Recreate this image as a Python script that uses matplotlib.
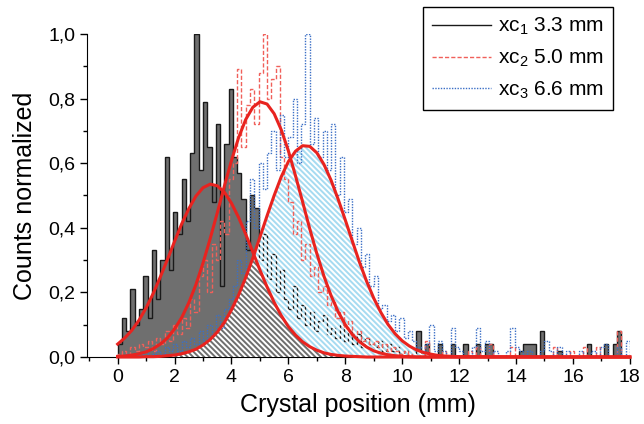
import numpy as np
import matplotlib
matplotlib.use("Agg")
import matplotlib.pyplot as plt

plt.rcParams['font.family'] = ['Liberation Sans', 'DejaVu Sans']
plt.rcParams['mathtext.fontset'] = 'custom'
plt.rcParams['mathtext.rm'] = 'Liberation Sans'
plt.rcParams['mathtext.it'] = 'Liberation Sans:italic'
plt.rcParams['hatch.linewidth'] = 1.4

#---- data ----#
# histogram bins, 0.15 mm wide, 0..18 mm
bin_edges = np.linspace(0, 18, 121)

counts_xc1 = [0.04, 0.12, 0.08, 0.21, 0.10, 0.15, 0.25, 0.12, 0.33, 0.18,
              0.30, 0.62, 0.27, 0.45, 0.38, 0.55, 0.42, 0.63, 1.00, 0.58,
              0.79, 0.65, 0.48, 0.72, 0.22, 0.66, 0.83, 0.62, 0.57, 0.49,
              0.33, 0.50, 0.46, 0.30, 0.38, 0.24, 0.32, 0.20, 0.27, 0.18,
              0.15, 0.22, 0.12, 0.16, 0.10, 0.14, 0.08, 0.11, 0.13, 0.07,
              0.09, 0.06, 0.10, 0.05, 0.08, 0.04, 0.07, 0.03, 0.06, 0.04,
              0.03, 0.05, 0.02, 0.04, 0.02, 0.03, 0.01, 0.02, 0.00, 0.00,
              0.08, 0.00, 0.04, 0.00, 0.00, 0.04, 0.00, 0.00, 0.04, 0.00,
              0.00, 0.04, 0.00, 0.00, 0.04, 0.00, 0.04, 0.04, 0.00, 0.00,
              0.00, 0.00, 0.00, 0.00, 0.02, 0.04, 0.04, 0.04, 0.00, 0.08,
              0.00, 0.00, 0.00, 0.02, 0.00, 0.00, 0.00, 0.00, 0.00, 0.00,
              0.04, 0.00, 0.00, 0.00, 0.04, 0.00, 0.04, 0.08, 0.00, 0.00]

counts_xc2 = [0.01, 0.02, 0.00, 0.03, 0.02, 0.04, 0.03, 0.05, 0.02, 0.06,
              0.04, 0.08, 0.05, 0.10, 0.07, 0.12, 0.09, 0.18, 0.14, 0.25,
              0.30, 0.20, 0.35, 0.30, 0.42, 0.38, 0.55, 0.60, 0.89, 0.65,
              0.78, 0.83, 0.72, 0.88, 1.00, 0.80, 0.86, 0.90, 0.62, 0.55,
              0.48, 0.38, 0.42, 0.30, 0.35, 0.25, 0.28, 0.20, 0.22, 0.16,
              0.17, 0.12, 0.14, 0.09, 0.11, 0.07, 0.08, 0.05, 0.06, 0.04,
              0.05, 0.03, 0.04, 0.02, 0.03, 0.02, 0.01, 0.02, 0.01, 0.00,
              0.00, 0.00, 0.05, 0.00, 0.00, 0.00, 0.02, 0.00, 0.00, 0.00,
              0.00, 0.00, 0.02, 0.00, 0.03, 0.00, 0.00, 0.04, 0.00, 0.00,
              0.00, 0.00, 0.03, 0.00, 0.00, 0.00, 0.00, 0.00, 0.00, 0.00,
              0.00, 0.00, 0.03, 0.00, 0.00, 0.00, 0.02, 0.00, 0.00, 0.03,
              0.00, 0.00, 0.03, 0.00, 0.00, 0.00, 0.00, 0.08, 0.00, 0.00]

counts_xc3 = [0.00, 0.00, 0.01, 0.00, 0.01, 0.00, 0.02, 0.00, 0.01, 0.02,
              0.01, 0.03, 0.02, 0.04, 0.02, 0.05, 0.03, 0.06, 0.04, 0.08,
              0.05, 0.10, 0.07, 0.13, 0.09, 0.15, 0.18, 0.22, 0.30, 0.26,
              0.42, 0.55, 0.40, 0.60, 0.52, 0.63, 0.70, 0.58, 0.75, 0.62,
              0.68, 0.80, 0.60, 0.72, 1.00, 0.66, 0.74, 0.62, 0.70, 0.58,
              0.72, 0.50, 0.62, 0.45, 0.49, 0.35, 0.40, 0.28, 0.32, 0.22,
              0.25, 0.15, 0.16, 0.11, 0.13, 0.08, 0.12, 0.06, 0.08, 0.05,
              0.03, 0.02, 0.04, 0.10, 0.02, 0.05, 0.02, 0.00, 0.09, 0.03,
              0.02, 0.00, 0.00, 0.03, 0.09, 0.02, 0.05, 0.00, 0.02, 0.00,
              0.00, 0.02, 0.09, 0.03, 0.02, 0.00, 0.02, 0.00, 0.00, 0.02,
              0.05, 0.02, 0.00, 0.03, 0.00, 0.02, 0.00, 0.00, 0.02, 0.00,
              0.00, 0.02, 0.00, 0.03, 0.04, 0.00, 0.00, 0.03, 0.00, 0.05]

# gaussian fit curves, read every 0.25 mm up to 12 mm, plus the end point 18 mm
fit_x = np.append(np.arange(0, 12.01, 0.25), 18.0)

fit_xc1 = [0.040, 0.059, 0.083, 0.114, 0.152, 0.197, 0.248, 0.302, 0.358, 0.412,
           0.459, 0.498, 0.524, 0.535, 0.530, 0.510, 0.476, 0.432, 0.380, 0.325,
           0.269, 0.217, 0.169, 0.128, 0.094, 0.068, 0.047, 0.032, 0.021, 0.013,
           0.008, 0.005, 0.003, 0.002, 0.001, 0.0, 0.0, 0.0, 0.0, 0.0,
           0.0, 0.0, 0.0, 0.0, 0.0, 0.0, 0.0, 0.0, 0.0, 0.0]

fit_xc2 = [0.002, 0.003, 0.006, 0.010, 0.016, 0.026, 0.040, 0.059, 0.087, 0.122,
           0.168, 0.224, 0.291, 0.366, 0.446, 0.529, 0.608, 0.679, 0.735, 0.773,
           0.790, 0.783, 0.753, 0.703, 0.638, 0.561, 0.480, 0.397, 0.320, 0.250,
           0.190, 0.140, 0.100, 0.069, 0.047, 0.031, 0.019, 0.012, 0.007, 0.004,
           0.002, 0.001, 0.0, 0.0, 0.0, 0.0, 0.0, 0.0, 0.0, 0.0]

fit_xc3 = [0.000, 0.000, 0.000, 0.000, 0.001, 0.001, 0.002, 0.004, 0.006, 0.010,
           0.016, 0.024, 0.037, 0.054, 0.077, 0.107, 0.146, 0.192, 0.246, 0.306,
           0.371, 0.437, 0.500, 0.558, 0.605, 0.637, 0.654, 0.652, 0.632, 0.596,
           0.547, 0.488, 0.424, 0.358, 0.293, 0.234, 0.182, 0.138, 0.101, 0.072,
           0.050, 0.034, 0.022, 0.014, 0.009, 0.005, 0.003, 0.002, 0.001, 0.0]

labels = ['xc$_{1}$ 3.3 mm', 'xc$_{2}$ 5.0 mm', 'xc$_{3}$ 6.6 mm']
yticks = [0.0, 0.2, 0.4, 0.6, 0.8, 1.0]
ytick_labels = ['0,0', '0,2', '0,4', '0,6', '0,8', '1,0']
xticks = [0, 2, 4, 6, 8, 10, 12, 14, 16, 18]

#---- figure ----#
fig = plt.figure(figsize=(6.44, 4.24), dpi=100)
ax = fig.add_axes([0.135, 0.158, 0.843, 0.762])

grey = '#6f6f6f'
# filled areas: columns of xc1, area of fit 3, area of fit 1, white stripes on fit 3
ax.stairs(counts_xc1, bin_edges, fill=True, color=grey, zorder=1)
ax.fill_between(fit_x, fit_xc3, color='#a6dbf1', lw=0, zorder=1.5)
ax.fill_between(fit_x, fit_xc1, color=grey, lw=0, zorder=2)
ax.stairs(counts_xc1, bin_edges, color='#1a1a1a', lw=1.0, zorder=3,
          label=labels[0])
ax.fill_between(fit_x, fit_xc3, facecolor='none', edgecolor='white',
                hatch='\\\\\\\\\\\\', lw=0, zorder=4)

ax.stairs(counts_xc2, bin_edges, color='#f0605a', lw=1.0, ls=(0, (3, 1.5)),
          zorder=5, label=labels[1])
ax.stairs(counts_xc3, bin_edges, color='#3b6fc6', lw=1.0, ls=(0, (1, 1)),
          zorder=5, label=labels[2])

for f in (fit_xc1, fit_xc2, fit_xc3):
    ax.plot(fit_x, f, color='#e8231f', lw=2.2, zorder=6, clip_on=False)

ax.set_xlim(-1.08, 18)
ax.set_ylim(0, 1.0)
ax.spines['top'].set_visible(False)
ax.spines['right'].set_visible(False)
ax.set_xticks(xticks)
ax.set_xticks(np.arange(-1, 18.5, 1), minor=True)
ax.set_yticks(yticks)
ax.set_yticklabels(ytick_labels)
ax.set_yticks(np.arange(0, 1.01, 0.1), minor=True)
ax.tick_params(which='major', direction='out', length=5, width=1, labelsize=14)
ax.tick_params(which='minor', direction='out', length=3, width=1)
ax.set_xlabel("Crystal position (mm)", fontsize=18, labelpad=5)
ax.set_ylabel("Counts normalized", fontsize=18, labelpad=8)

leg = fig.legend(loc='upper right', bbox_to_anchor=(0.952, 0.984),
                 borderaxespad=0, fontsize=15, handlelength=2.8,
                 handletextpad=0.35, labelspacing=0.5, borderpad=0.45,
                 fancybox=False, framealpha=1, edgecolor='black')
leg.get_frame().set_linewidth(1.0)

plt.savefig("out.png", dpi=100)
plt.close()
